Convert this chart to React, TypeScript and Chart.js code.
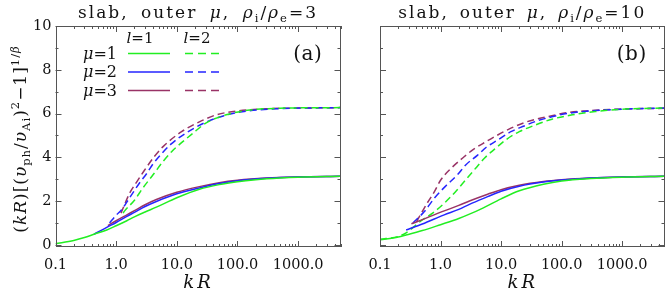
import React, { useEffect, useRef } from "react";
import { Chart, registerables } from "chart.js";
Chart.register(...registerables);

// ---- axes ----
const xTickValues = [0.1, 1, 10, 100, 1000];
const xTickLabels = ["0.1", "1.0", "10.0", "100.0", "1000.0"];
const yTickValues = [0, 2, 4, 6, 8, 10];
const yTickLabels = ["0", "2", "4", "6", "8", "10"];
const xMin = 0.1;
const xMax = 5000;
const yMin = -0.1;
const yMax = 10;

// ---- panel (a): rho_i/rho_e = 3 ----
const kR_a_m1_l1 = [0.1, 0.2, 0.3, 0.43, 0.7, 1, 1.5, 2, 3, 4.6, 10, 23.6, 50, 100, 200, 500, 1000, 5000];
const y_a_m1_l1 = [0.05, 0.2, 0.33, 0.48, 0.68, 0.87, 1.1, 1.28, 1.5, 1.72, 2.15, 2.54, 2.75, 2.88, 2.97, 3.05, 3.09, 3.13];
const kR_a_m2_l1 = [0.43, 0.7, 1, 1.5, 2, 3, 4.6, 10, 23.6, 50, 100, 300, 1000, 5000];
const y_a_m2_l1 = [0.48, 0.8, 1.02, 1.3, 1.48, 1.75, 1.98, 2.33, 2.6, 2.8, 2.93, 3.04, 3.1, 3.13];
const kR_a_m3_l1 = [0.73, 1, 1.5, 2, 3, 4.6, 10, 23.6, 50, 100, 300, 1000, 5000];
const y_a_m3_l1 = [0.88, 1.1, 1.37, 1.56, 1.83, 2.07, 2.4, 2.66, 2.84, 2.95, 3.05, 3.1, 3.13];
const kR_a_m1_l2 = [1.3, 1.38, 2.02, 2.76, 4.06, 5.9, 8.5, 11.2, 18.5, 30, 65, 158, 500, 5000];
const y_a_m1_l2 = [1.45, 1.55, 2.05, 2.6, 3.2, 3.8, 4.3, 4.6, 5.1, 5.56, 5.94, 6.16, 6.24, 6.27];
const kR_a_m2_l2 = [0.78, 1, 1.23, 1.58, 2.02, 2.46, 3.17, 4.06, 5.56, 8, 14, 30, 60, 150, 500, 5000];
const y_a_m2_l2 = [1.0, 1.35, 1.6, 2.05, 2.5, 2.85, 3.25, 3.7, 4.15, 4.6, 5.1, 5.6, 5.9, 6.12, 6.22, 6.27];
const kR_a_m3_l2 = [1.2, 1.67, 2.16, 2.95, 4.3, 6, 12, 24, 45, 100, 300, 1000, 5000];
const y_a_m3_l2 = [1.45, 2.36, 2.85, 3.42, 4.05, 4.5, 5.17, 5.63, 5.94, 6.12, 6.22, 6.25, 6.27];

// ---- panel (b): rho_i/rho_e = 10 ----
const kR_b_m1_l1 = [0.1, 0.2, 0.27, 0.5, 1, 2, 3, 5, 10, 20, 50, 100, 300, 1000, 5000];
const y_b_m1_l1 = [0.23, 0.36, 0.45, 0.65, 0.92, 1.2, 1.4, 1.68, 2.1, 2.47, 2.77, 2.92, 3.03, 3.09, 3.13];
const kR_b_m2_l1 = [0.27, 0.5, 1.15, 2, 3, 6, 10, 20, 50, 100, 300, 1000, 5000];
const y_b_m2_l1 = [0.68, 0.95, 1.37, 1.62, 1.85, 2.2, 2.45, 2.68, 2.87, 2.96, 3.05, 3.1, 3.13];
const kR_b_m3_l1 = [0.33, 0.5, 1.15, 2, 3, 6, 10, 20, 50, 100, 300, 1000, 5000];
const y_b_m3_l1 = [0.96, 1.15, 1.55, 1.8, 2.0, 2.31, 2.52, 2.72, 2.89, 2.97, 3.05, 3.1, 3.13];
const kR_b_m1_l2 = [0.1, 0.2, 0.27, 0.5, 0.74, 1.15, 1.77, 2.6, 3.8, 5.3, 7.8, 12, 20, 37, 69, 150, 360, 1000, 5000];
const y_b_m1_l2 = [0.25, 0.38, 0.55, 1.14, 1.45, 1.9, 2.43, 2.97, 3.5, 3.96, 4.37, 4.8, 5.17, 5.48, 5.74, 5.94, 6.09, 6.2, 6.25];
const kR_b_m2_l2 = [0.35, 0.54, 0.79, 1.23, 1.9, 2.6, 4.1, 5.7, 8.8, 14.5, 24, 39, 69, 122, 300, 1000, 5000];
const y_b_m2_l2 = [1.0, 1.52, 2.13, 2.7, 3.2, 3.65, 4.1, 4.46, 4.79, 5.17, 5.43, 5.66, 5.85, 6.0, 6.12, 6.2, 6.25];
const kR_b_m3_l2 = [0.4, 0.6, 0.8, 1.0, 1.5, 2.35, 3.4, 5.7, 8.8, 14.5, 24, 39, 69, 122, 246, 880, 5000];
const y_b_m3_l2 = [1.05, 1.9, 2.45, 2.95, 3.5, 3.98, 4.34, 4.72, 5.02, 5.33, 5.58, 5.75, 5.9, 6.04, 6.12, 6.2, 6.24];

const muLabels = ["μ=1", "μ=2", "μ=3"];
const muColors = ["#22ee22", "#2525ff", "#993366"];
const dashPattern = [7, 4];
const SERIF = "'DejaVu Serif', 'Liberation Serif', serif";

type Seg = { t: string; i?: boolean; sub?: boolean; sup?: boolean };

function drawRich(
  ctx: CanvasRenderingContext2D,
  segs: Seg[],
  x: number,
  y: number,
  size: number,
  align: "left" | "center" | "right",
  spacing = 0,
  target = 0
) {
  const small = size * 0.68;
  const fontFor = (s: Seg) => `${s.i ? "italic " : ""}${s.sub || s.sup ? small : size}px ${SERIF}`;
  let natural = 0;
  let nChars = 0;
  let nSpaces = 0;
  for (const s of segs) {
    ctx.font = fontFor(s);
    for (const ch of Array.from(s.t)) {
      natural += ctx.measureText(ch).width;
      nChars++;
      if (ch === " ") nSpaces++;
    }
  }
  const sp = spacing;
  let spaceExtra = 0;
  if (target > 0) {
    const rem = target - natural - sp * (nChars - 1);
    if (nSpaces > 0) spaceExtra = Math.max(0, rem / nSpaces);
  }
  const w = natural + sp * (nChars - 1) + spaceExtra * nSpaces;
  let cx = align === "center" ? x - w / 2 : align === "right" ? x - w : x;
  ctx.textAlign = "left";
  ctx.textBaseline = "alphabetic";
  for (const s of segs) {
    ctx.font = fontFor(s);
    const dy = s.sub ? size * 0.25 : s.sup ? -size * 0.42 : 0;
    for (const ch of Array.from(s.t)) {
      ctx.fillText(ch, cx, y + dy);
      cx += ctx.measureText(ch).width + sp + (ch === " " ? spaceExtra : 0);
    }
  }
}

function titleSegs(ratio: string): Seg[] {
  return [
    { t: "slab, outer " },
    { t: "μ", i: true },
    { t: ", " },
    { t: "ρ", i: true },
    { t: "i", sub: true },
    { t: "/" },
    { t: "ρ", i: true },
    { t: "e", sub: true },
    { t: "=" + ratio },
  ];
}

const yTitleSegs: Seg[] = [
  { t: "(" },
  { t: "kR", i: true },
  { t: ")[(" },
  { t: "υ", i: true },
  { t: "ph", sub: true },
  { t: "/" },
  { t: "υ", i: true },
  { t: "Ai", sub: true },
  { t: ")" },
  { t: "2", sup: true },
  { t: "−1]" },
  { t: "1/", sup: true },
  { t: "β", sup: true, i: true },
];

function ds(xs: number[], ys: number[], color: string, dashed: boolean) {
  return {
    data: xs.map((x, k) => ({ x, y: ys[k] })),
    borderColor: color,
    borderWidth: 1.5,
    borderDash: dashed ? dashPattern : [],
    pointRadius: 0,
    fill: false,
    cubicInterpolationMode: "monotone" as const,
  };
}

function makeDecor(panel: "a" | "b", ratio: string) {
  return {
    id: "decor" + panel,
    afterDatasetsDraw(chart: any) {
      const { ctx, chartArea: a, scales } = chart;
      const xs = scales.x;
      const ys = scales.y;
      ctx.save();
      // frame
      ctx.strokeStyle = "#555";
      ctx.lineWidth = 1;
      ctx.setLineDash([]);
      ctx.strokeRect(Math.round(a.left) + 0.5, Math.round(a.top) + 0.5, Math.round(a.right - a.left) - 1, Math.round(a.bottom - a.top) - 1);
      // x ticks (inward, bottom and top)
      ctx.beginPath();
      for (let d = 0.1; d < xMax; d *= 10) {
        for (let m = 1; m <= 9; m++) {
          const v = d * m;
          if (v > xMax * 1.0001) break;
          const px = Math.round(xs.getPixelForValue(v)) + 0.5;
          const len = m === 1 ? 6 : 3;
          ctx.moveTo(px, a.bottom);
          ctx.lineTo(px, a.bottom - len);
          ctx.moveTo(px, a.top);
          ctx.lineTo(px, a.top + len);
        }
      }
      for (let v = 0; v <= 10; v++) {
        const py = Math.round(ys.getPixelForValue(v)) + 0.5;
        const len = v % 2 === 0 ? 6 : 3;
        ctx.moveTo(a.left, py);
        ctx.lineTo(a.left + len, py);
        ctx.moveTo(a.right, py);
        ctx.lineTo(a.right - len, py);
      }
      ctx.stroke();

      ctx.fillStyle = "#111";
      const cxm = (a.left + a.right) / 2 - 1;
      // title
      drawRich(ctx, titleSegs(ratio), cxm, 17.5, 17, "center", 2, panel === "a" ? 238 : 246);
      // x title
      drawRich(ctx, [{ t: "kR", i: true }], cxm, 288, 18, "center", 3);
      // panel label
      drawRich(ctx, [{ t: panel === "a" ? "(a)" : "(b)" }], a.right - 33, 60, 20, "center", 0.5);

      if (panel === "a") {
        // y title
        ctx.save();
        ctx.translate(26, (a.top + a.bottom) / 2 + 3);
        ctx.rotate(-Math.PI / 2);
        drawRich(ctx, yTitleSegs, 0, 0, 17, "center", 1);
        ctx.restore();
        // legend
        drawRich(ctx, [{ t: "l", i: true }, { t: "=1" }], 140, 43, 15, "center", 0);
        drawRich(ctx, [{ t: "l", i: true }, { t: "=2" }], 197, 43, 15, "center", 0);
        const rows = [53.5, 72, 90.5];
        rows.forEach((ry, k) => {
          const lab = muLabels[k];
          drawRich(ctx, [{ t: lab.slice(0, 1), i: true }, { t: lab.slice(1) }], 117, ry + 5, 16, "right", 0);
          ctx.strokeStyle = muColors[k];
          ctx.lineWidth = 1.5;
          ctx.setLineDash([]);
          ctx.beginPath();
          ctx.moveTo(128, ry);
          ctx.lineTo(170, ry);
          ctx.stroke();
          ctx.setLineDash([8, 5]);
          ctx.beginPath();
          ctx.moveTo(185, ry);
          ctx.lineTo(221, ry);
          ctx.stroke();
        });
      }
      ctx.restore();
    },
  };
}

function buildConfig(panel: "a" | "b") {
  const isA = panel === "a";
  const datasets = isA
    ? [
        ds(kR_a_m1_l1, y_a_m1_l1, muColors[0], false),
        ds(kR_a_m2_l1, y_a_m2_l1, muColors[1], false),
        ds(kR_a_m3_l1, y_a_m3_l1, muColors[2], false),
        ds(kR_a_m1_l2, y_a_m1_l2, muColors[0], true),
        ds(kR_a_m2_l2, y_a_m2_l2, muColors[1], true),
        ds(kR_a_m3_l2, y_a_m3_l2, muColors[2], true),
      ]
    : [
        ds(kR_b_m1_l1, y_b_m1_l1, muColors[0], false),
        ds(kR_b_m2_l1, y_b_m2_l1, muColors[1], false),
        ds(kR_b_m3_l1, y_b_m3_l1, muColors[2], false),
        ds(kR_b_m1_l2, y_b_m1_l2, muColors[0], true),
        ds(kR_b_m2_l2, y_b_m2_l2, muColors[1], true),
        ds(kR_b_m3_l2, y_b_m3_l2, muColors[2], true),
      ];
  return {
    type: "line" as const,
    data: { datasets },
    options: {
      animation: false as const,
      responsive: false,
      devicePixelRatio: 1,
      layout: { padding: { top: 26, right: isA ? 4.5 : 0.5, left: 0, bottom: 0 } },
      plugins: { legend: { display: false }, tooltip: { enabled: false }, title: { display: false } },
      scales: {
        x: {
          type: "logarithmic" as const,
          min: xMin,
          max: xMax,
          grid: { display: false, drawTicks: false },
          border: { display: false },
          ticks: {
            font: { family: SERIF, size: 14.5 },
            color: "#111",
            padding: 10,
            maxRotation: 0,
            autoSkip: false,
            callback: (_v: any, i: number) => xTickLabels[i],
          },
          afterBuildTicks: (s: any) => {
            s.ticks = xTickValues.map((v) => ({ value: v }));
          },
          afterFit: (s: any) => {
            s.height = 44;
          },
        },
        y: {
          type: "linear" as const,
          min: yMin,
          max: yMax,
          grid: { display: false, drawTicks: false },
          border: { display: false },
          ticks: {
            display: isA,
            font: { family: SERIF, size: 14.5 },
            color: "#111",
            padding: 4,
            callback: (_v: any, i: number) => yTickLabels[i],
          },
          afterBuildTicks: (s: any) => {
            s.ticks = yTickValues.map((v) => ({ value: v }));
          },
          afterFit: (s: any) => {
            s.width = isA ? 55.5 : 35;
          },
        },
      },
    },
    plugins: [makeDecor(panel, isA ? "3" : "10")],
  };
}

function Panel({ panel, left, width }: { panel: "a" | "b"; left: number; width: number }) {
  const ref = useRef<HTMLCanvasElement | null>(null);
  useEffect(() => {
    if (!ref.current) return;
    const chart = new Chart(ref.current, buildConfig(panel) as any);
    return () => chart.destroy();
  }, [panel]);
  return (
    <canvas
      ref={ref}
      width={width}
      height={291}
      style={{ position: "absolute", left, top: 0, width, height: 291 }}
    />
  );
}

export default function App() {
  return (
    <div style={{ position: "absolute", left: 0, top: 0, width: 665, height: 291, background: "#fff", overflow: "hidden" }}>
      <Panel panel="a" left={0} width={345} />
      <Panel panel="b" left={345} width={320} />
    </div>
  );
}
